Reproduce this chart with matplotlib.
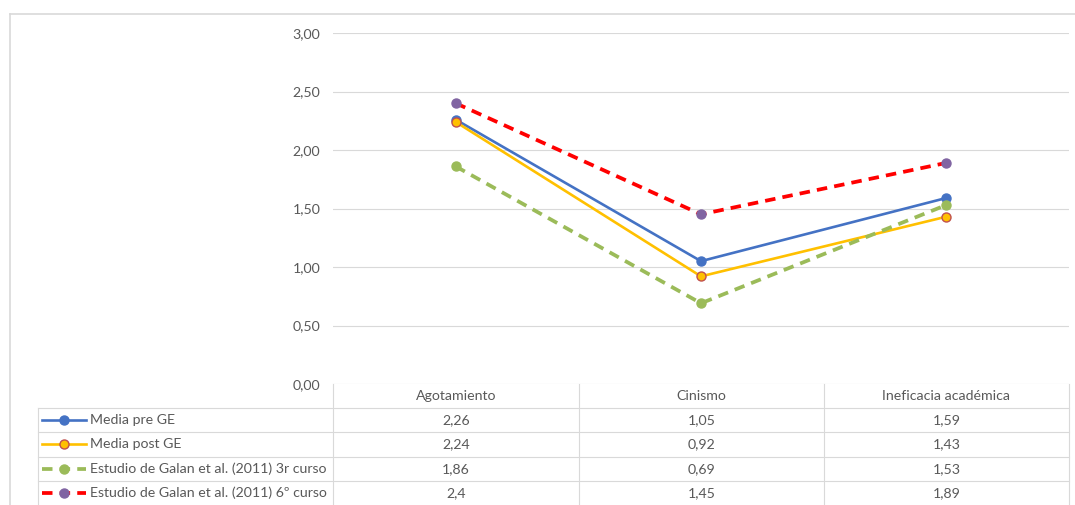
import matplotlib
matplotlib.use("Agg")
import matplotlib.pyplot as plt
from matplotlib.lines import Line2D

# Burnout dimensions and series means
categories = ["Agotamiento", "Cinismo", "Ineficacia académica"]
series_names = [
    "Media pre GE",
    "Media post GE",
    "Estudio de Galan et al. (2011) 3r curso",
    "Estudio de Galan et al. (2011) 6º curso",
]
media_pre = [2.26, 1.05, 1.59]
media_post = [2.24, 0.92, 1.43]
galan_3r = [1.86, 0.69, 1.53]
galan_6 = [2.4, 1.45, 1.89]
yticks = [0.0, 0.5, 1.0, 1.5, 2.0, 2.5, 3.0]

series_values = [media_pre, media_post, galan_3r, galan_6]

W, H = 1075, 505
DPI = 100
TEXT = "#595959"
GRID = "#D9D9D9"
FONT = "Lato"
FS = 10.2

styles = [
    dict(color="#4472C4", lw=1.9, ls="-", mfc="#4472C4", mec="#4472C4"),
    dict(color="#FFC000", lw=1.9, ls="-", mfc="#FFC000", mec="#C0504D"),
    dict(color="#9BBB59", lw=2.7, ls=(0, (2.8, 1.9)), mfc="#9BBB59", mec="#9BBB59"),
    dict(color="#FF0000", lw=2.7, ls=(0, (2.8, 1.9)), mfc="#8064A2", mec="#8064A2"),
]

fig = plt.figure(figsize=(W / DPI, H / DPI), dpi=DPI)
fig.patch.set_facecolor("white")


def fx(px):
    return px / W


def fy(py):
    return 1 - py / H


# plot area geometry (pixels)
left, right, top, bottom = 333, 1069, 33, 384
ax = fig.add_axes([fx(left), fy(bottom), fx(right - left), (bottom - top) / H])
ax.set_xlim(-0.5, len(categories) - 0.5)
ax.set_ylim(0, 3.0)
ax.set_yticks(yticks)
ax.set_yticklabels([f"{v:.2f}".replace(".", ",") for v in yticks],
                   fontsize=FS, color=TEXT, family=FONT)
ax.tick_params(axis="y", length=0, pad=9)
ax.set_xticks([])
for s in ax.spines.values():
    s.set_visible(False)
ax.yaxis.grid(True, color=GRID, lw=0.8)
ax.set_axisbelow(True)

x = list(range(len(categories)))
for vals, st in zip(series_values, styles):
    ax.plot(x, vals, color=st["color"], lw=st["lw"], ls=st["ls"],
            marker="o", ms=6.5, mfc=st["mfc"], mec=st["mec"], mew=1.0,
            solid_capstyle="round", dash_capstyle="butt", zorder=3)

# outer chart frame
fig.add_artist(Line2D([fx(9.5), fx(9.5)], [fy(13.5), fy(H)], color=GRID, lw=1.2))
fig.add_artist(Line2D([fx(9.5), fx(W)], [fy(13.5), fy(13.5)], color=GRID, lw=1.2))

# data table
col_edges = [333, 579, 824, 1069]
row_edges = [384, 408, 432, 457, 481]
legend_left = 38

for y in row_edges[1:]:
    fig.add_artist(Line2D([fx(legend_left), fx(right)], [fy(y), fy(y)], color=GRID, lw=0.8))
fig.add_artist(Line2D([fx(legend_left), fx(legend_left)], [fy(row_edges[1]), fy(H)], color=GRID, lw=0.8))
for cx in col_edges:
    fig.add_artist(Line2D([fx(cx), fx(cx)], [fy(row_edges[0]), fy(H)], color=GRID, lw=0.8))

centers = [(col_edges[i] + col_edges[i + 1]) / 2 for i in range(len(categories))]
row_h = 24.4
for cx, cat in zip(centers, categories):
    fig.text(fx(cx), fy(396), cat, ha="center", va="center",
             fontsize=FS, color=TEXT, family=FONT)

for r, (name, vals, st) in enumerate(zip(series_names, series_values, styles)):
    yc = 420 + r * row_h
    fig.add_artist(Line2D([fx(42), fx(86)], [fy(yc), fy(yc)], color=st["color"],
                          lw=st["lw"], ls=st["ls"], dash_capstyle="butt"))
    fig.add_artist(Line2D([fx(64)], [fy(yc)], marker="o", ms=6.5,
                          mfc=st["mfc"], mec=st["mec"], mew=1.0, ls="none"))
    fig.text(fx(90), fy(yc), name, ha="left", va="center",
             fontsize=FS, color=TEXT, family=FONT)
    for cx, v in zip(centers, vals):
        fig.text(fx(cx), fy(yc), f"{v:g}".replace(".", ","), ha="center",
                 va="center", fontsize=FS, color=TEXT, family=FONT)

fig.savefig("out.png", dpi=DPI, facecolor="white")
